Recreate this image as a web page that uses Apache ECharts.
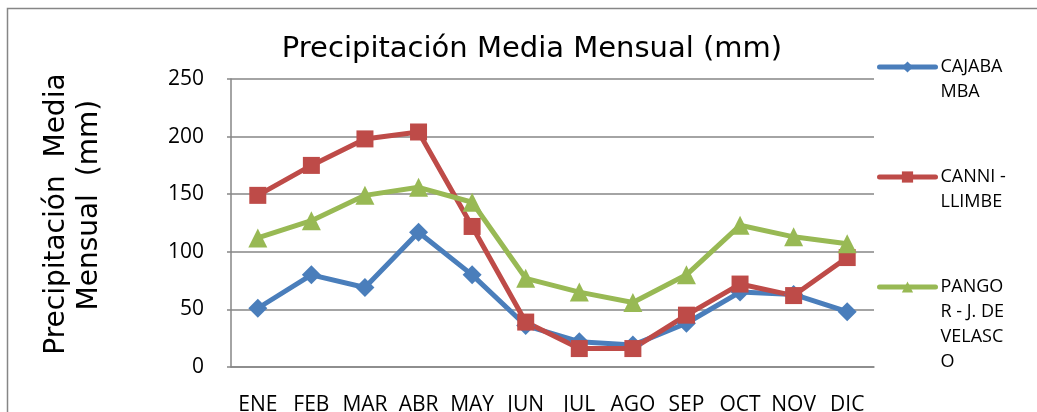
<!DOCTYPE html>
<html>
<head>
<meta charset="utf-8">
<script src="https://cdn.jsdelivr.net/npm/echarts@6/dist/echarts.min.js"></script>
<style>
    html, body { margin: 0; padding: 0; background: #fff; }
    #chart { width: 1037px; height: 412px; }
</style>
</head>
<body>
<div id="chart"></div>
<script>
// meses
const meses = ['ENE', 'FEB', 'MAR', 'ABR', 'MAY', 'JUN', 'JUL', 'AGO', 'SEP', 'OCT', 'NOV', 'DIC']
// precipitacion media mensual por estacion (mm)
const cajabamba = [51, 80, 69, 117, 80, 36, 22, 19, 38, 65, 63, 48]
const canniLlimbe = [149, 175, 198, 204, 122, 39, 16, 16, 45, 72, 62, 95]
const pangor = [112, 127, 149, 156, 143, 77, 65, 56, 80, 123, 113, 107]

const fuente = 'Open Sans'
const fuenteTitulo = 'DejaVu Sans'
const gris = '#868686'

// cada leyenda va aparte para que el icono quede en la primera linea del texto
function leyenda(nombre, lineas, iconY) {
    const lh = 25
    const alto = (2 * lineas - 1) * lh
    return {
        data: [nombre],
        left: 877,
        top: iconY - alto / 2,
        padding: 0,
        itemWidth: 56,
        itemHeight: 14,
        lineStyle: { width: 5, cap: 'round' },
        // lineas vacias delante para que la primera linea quede a la altura del icono
        formatter: () => '\n'.repeat(lineas - 1) + nombre,
        textStyle: {
            fontFamily: fuente,
            fontSize: 18,
            color: '#000',
            lineHeight: lh
        }
    }
}

const chart = echarts.init(document.getElementById('chart'))
chart.setOption({
    animation: false,
    title: {
        text: 'Precipitación Media Mensual (mm)',
        left: 527,
        textAlign: 'center',
        top: 30,
        textStyle: { fontFamily: fuenteTitulo, fontSize: 29, fontWeight: 'normal', color: '#000' }
    },
    legend: [
        leyenda('CAJABA\nMBA', 2, 67),
        leyenda('CANNI -\nLLIMBE', 2, 177),
        leyenda('PANGO\nR - J. DE\nVELASC\nO', 4, 287)
    ],
    grid: { left: 231, top: 79, right: 163, bottom: 45, outerBoundsMode: 'none', containLabel: false },
    xAxis: {
        type: 'category',
        data: meses,
        boundaryGap: true,
        axisLine: { lineStyle: { color: gris, width: 1.5 } },
        axisTick: { show: false },
        axisLabel: { fontFamily: fuente, fontSize: 21, color: '#000', margin: 28, interval: 0 }
    },
    yAxis: {
        type: 'value',
        min: 0,
        max: 250,
        interval: 50,
        // espacios delante para subir un poco el texto como en el original
        name: '  Precipitación  Media\n    Mensual  (mm)',
        nameLocation: 'middle',
        nameRotate: 90,
        nameGap: 125,
        nameTextStyle: { fontFamily: fuenteTitulo, fontSize: 28, color: '#000', lineHeight: 33 },
        axisLine: { show: true, lineStyle: { color: gris, width: 1.5 } },
        axisTick: { show: true, length: 4, lineStyle: { color: gris, width: 1.5 } },
        splitLine: { lineStyle: { color: gris, width: 1.5 } },
        axisLabel: { fontFamily: fuente, fontSize: 21, color: '#000', margin: 27 }
    },
    series: [
        {
            name: 'CAJABA\nMBA',
            type: 'line',
            data: cajabamba,
            symbol: 'diamond',
            symbolSize: 19,
            color: '#4A7EBB',
            lineStyle: { width: 5 }
        },
        {
            name: 'CANNI -\nLLIMBE',
            type: 'line',
            data: canniLlimbe,
            symbol: 'rect',
            symbolSize: 17,
            color: '#BE4B48',
            lineStyle: { width: 5 }
        },
        {
            name: 'PANGO\nR - J. DE\nVELASC\nO',
            type: 'line',
            data: pangor,
            symbol: 'triangle',
            symbolSize: 19,
            color: '#98B954',
            lineStyle: { width: 5 }
        }
    ],
    graphic: [
        {
            type: 'rect',
            silent: true,
            shape: { x: 7.5, y: 8.5, width: 1100, height: 500 },
            style: { fill: null, stroke: gris, lineWidth: 1.5 }
        }
    ]
})
</script>
</body>
</html>
